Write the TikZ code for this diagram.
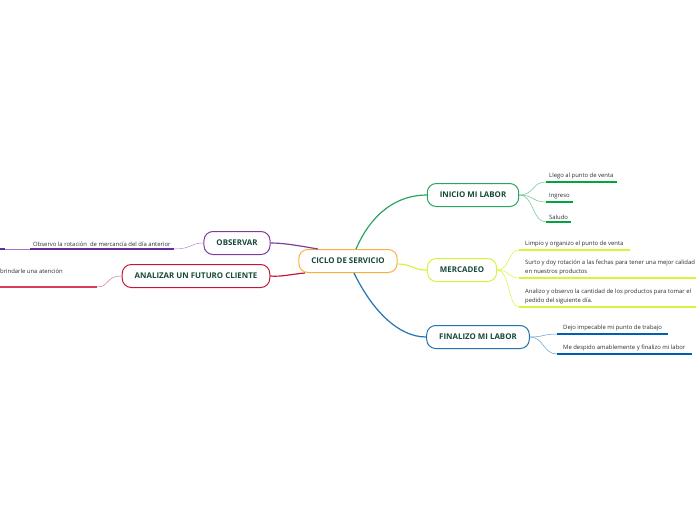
\documentclass[tikz,border=0pt]{standalone}
\usepackage{fontspec}
\setmainfont{Open Sans}
\definecolor{topictext}{RGB}{22,72,58}
\definecolor{leaftext}{RGB}{45,45,45}
\definecolor{cicloline}{RGB}{250,175,60}
\definecolor{inicioline}{RGB}{40,165,95}
\definecolor{iniciodark}{RGB}{0,165,60}
\definecolor{mercadeoline}{RGB}{218,242,60}
\definecolor{finalizoline}{RGB}{35,115,180}
\definecolor{finalizodark}{RGB}{0,95,180}
\definecolor{observarline}{RGB}{125,60,160}
\definecolor{observardark}{RGB}{100,45,160}
\definecolor{analizarline}{RGB}{195,25,55}
\definecolor{analizardark}{RGB}{215,60,90}
\begin{document}
\begin{tikzpicture}[
    x=1pt, y=-1pt,
    topic/.style={
        rectangle,
        draw,
        rounded corners=9pt,
        line width=1pt,
        minimum height=23pt,
        inner xsep=12.5pt,
        font=\fontsize{7.9}{9}\selectfont\bfseries,
        text=topictext,
    },
    leaf/.style={
        anchor=south west,
        inner xsep=3pt,
        inner ysep=2.5pt,
        align=left,
        font=\fontsize{5.9}{9.5}\selectfont,
        text=leaftext,
    },
    wideleaf/.style={leaf, inner xsep=6pt},
    branch/.style={line width=1.2pt},
    twig/.style={line width=0.5pt},
    uline/.style={line width=1.3pt}
]

\useasboundingbox (0,0) rectangle (696,520);

\node[topic, draw=cicloline] (ciclo) at (348,261) {CICLO DE SERVICIO};
\node[topic, draw=inicioline] (inicio) at (473,195) {INICIO MI LABOR};
\node[topic, draw=mercadeoline] (mercadeo) at (462,270) {MERCADEO};
\node[topic, draw=finalizoline] (finalizo) at (478,337) {FINALIZO MI LABOR};
\node[topic, draw=observarline] (observar) at (237,243) {OBSERVAR};
\node[topic, draw=analizarline] (analizar) at (196,276) {ANALIZAR UN FUTURO CLIENTE};

\node[leaf] (llego) at (546,182) {Llego al punto de venta};
\node[leaf] (ingreso) at (546,202) {Ingreso};
\node[leaf] (saludo) at (546,222) {Saludo};
\node[wideleaf] (limpio) at (519,250) {Limpio y organizo el punto de venta};
\node[wideleaf] (surto) at (519,278) {Surto y doy rotación a las fechas para tener una mejor calidad\\en nuestros productos};
\node[wideleaf] (analizo) at (519,307) {Analizo y observo la cantidad de los productos para tomar el\\pedido del siguiente día.};
\node[wideleaf] (dejo) at (557,334) {Dejo impecable mi punto de trabajo};
\node[wideleaf] (despido) at (557,354) {Me despido amablemente y finalizo mi labor};
\node[leaf] (rotacion) at (30,249) {Observo la rotación~ de mercancía del día anterior};
\node[leaf, anchor=base east] (brindar) at (66,273) {brindarle una atención};
\coordinate (rotacion_next) at (5,249);
\coordinate (brindar_end) at (97,287);

\draw[branch, inicioline] ([xshift=8pt]ciclo.north) .. controls (372,212) and (398,195) .. (inicio.west);
\draw[branch, mercadeoline] ([yshift=-3pt]ciclo.east) .. controls (412,264) and (412,270) .. (mercadeo.west);
\draw[branch, finalizoline] ([xshift=6pt]ciclo.south) .. controls (372,310) and (398,337) .. (finalizo.west);
\draw[branch, observarline] ([xshift=-30pt]ciclo.north) .. controls (300,246) and (285,243) .. (observar.east);
\draw[branch, analizarline] ([xshift=-43pt]ciclo.south) .. controls (292,274) and (282,277) .. (analizar.east);

\draw[twig, inicioline!70] (inicio.east) .. controls (534,195) and (532,182) .. (llego.south west);
\draw[twig, inicioline!70] (inicio.east) .. controls (534,195) and (532,202) .. (ingreso.south west);
\draw[twig, inicioline!70] (inicio.east) .. controls (534,195) and (532,222) .. (saludo.south west);
\draw[twig, mercadeoline] (mercadeo.east) .. controls (510,270) and (508,250) .. (limpio.south west);
\draw[twig, mercadeoline] (mercadeo.east) .. controls (510,270) and (508,278) .. (surto.south west);
\draw[twig, mercadeoline] (mercadeo.east) .. controls (510,270) and (508,307) .. (analizo.south west);
\draw[twig, finalizoline!70] (finalizo.east) .. controls (544,337) and (543,334) .. (dejo.south west);
\draw[twig, finalizoline!70] (finalizo.east) .. controls (544,337) and (543,354) .. (despido.south west);
\draw[twig, observarline!60] (observar.west) .. controls (190,243) and (192,249) .. (rotacion.south east);
\draw[twig, analizarline!60] (analizar.west) .. controls (105,276) and (110,287) .. (brindar_end);
\draw[twig, observarline!70] (rotacion.south west) -- (rotacion_next);

\draw[uline, iniciodark] (llego.south west) -- (llego.south east);
\draw[uline, iniciodark] (ingreso.south west) -- (ingreso.south east);
\draw[uline, iniciodark] (saludo.south west) -- (saludo.south east);
\draw[uline, mercadeoline] (limpio.south west) -- (limpio.south east);
\draw[uline, mercadeoline] (surto.south west) -- (surto.south east);
\draw[uline, mercadeoline] (analizo.south west) -- (analizo.south east);
\draw[uline, finalizodark] (dejo.south west) -- (dejo.south east);
\draw[uline, finalizodark] (despido.south west) -- (despido.south east);
\draw[uline, observardark] (rotacion.south west) -- (rotacion.south east);
\draw[uline, observardark] (-10,249) -- (rotacion_next);
\draw[uline, analizardark] (-10,287) -- (brindar_end);

\end{tikzpicture}
\end{document}
